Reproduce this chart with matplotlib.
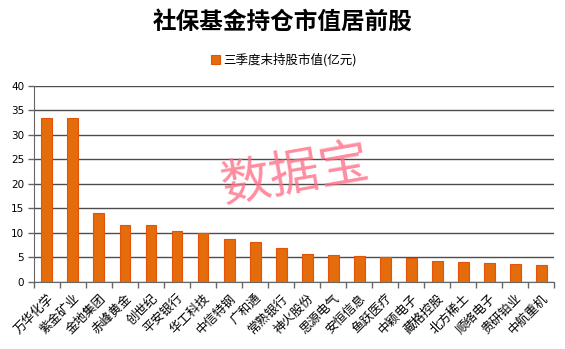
import matplotlib
matplotlib.use("Agg")
import matplotlib.pyplot as plt
import numpy as np

plt.rcParams['font.family'] = ['Noto Sans CJK SC', 'DejaVu Sans']

# top holdings by market value at end of Q3 (100 million yuan)
stocks = ["万华化学", "紫金矿业", "金地集团", "赤峰黄金", "创世纪", "平安银行", "华工科技",
          "中信特钢", "广和通", "常熟银行", "神火股份", "思源电气", "安恒信息", "鱼跃医疗",
          "中颖电子", "藏格控股", "北方稀土", "顺络电子", "贵研铂业", "中航重机"]
values = [33.4, 33.4, 14.0, 11.6, 11.6, 10.3, 10.0,
          8.8, 8.2, 7.0, 5.7, 5.5, 5.3, 5.1,
          4.8, 4.3, 4.1, 3.9, 3.7, 3.4]
yticks = [0, 5, 10, 15, 20, 25, 30, 35, 40]

title = "社保基金持仓市值居前股"
series_name = "三季度末持股市值(亿元)"

fig = plt.figure(figsize=(5.65, 3.49), dpi=100)
ax = fig.add_axes([0.060, 0.192, 0.921, 0.562])

x = np.arange(len(stocks))
bars = ax.bar(x, values, width=0.42, color="#E46C0A", edgecolor="#E2540A",
              linewidth=0.8, label=series_name, zorder=3)

ax.set_xlim(-0.5, len(stocks) - 0.5)
ax.set_ylim(0, 40)
ax.set_yticks(yticks)
ax.set_yticklabels([str(v) for v in yticks], fontsize=7.5, family="DejaVu Sans")
ax.yaxis.grid(True, color="#4d4d4d", linewidth=1.0, zorder=1)
ax.set_axisbelow(True)

# category labels at centers, tick marks between categories
ax.set_xticks(x)
ax.set_xticklabels(stocks, rotation=45, ha="right", rotation_mode="anchor", fontsize=9)
ax.tick_params(axis="x", length=0, pad=7)
ax.set_xticks(np.arange(-0.5, len(stocks), 1), minor=True)
ax.tick_params(axis="x", which="minor", length=4, color="#666666", width=1.0)
ax.tick_params(axis="y", length=4, color="#666666", width=1.0, pad=3)

for s in ["top", "right"]:
    ax.spines[s].set_visible(False)
ax.spines["left"].set_color("#666666")
ax.spines["bottom"].set_color("#666666")

fig.text(0.5, 0.937, title, ha="center", va="center", fontsize=17, fontweight="bold")

fig.legend(handles=[bars], labels=[series_name], loc="center", bbox_to_anchor=(0.503, 0.828),
           frameon=False, fontsize=9, handlelength=0.7, handleheight=0.7, handletextpad=0.3)

# watermark
fig.text(0.522, 0.497, "数据宝", ha="center", va="center", fontsize=36, color="#FF7088",
         alpha=0.8, rotation=10, zorder=10)

fig.savefig("out.png", dpi=100)
